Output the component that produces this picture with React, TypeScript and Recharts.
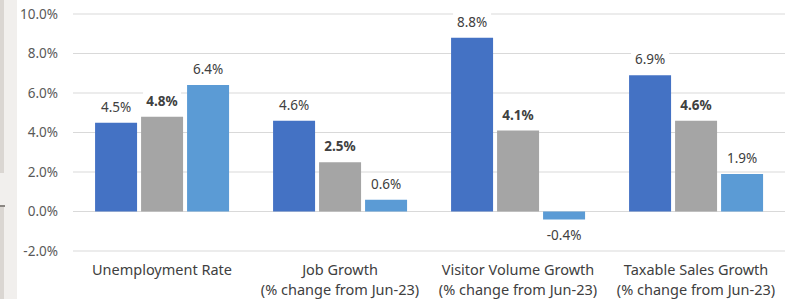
import React from "react";
import { BarChart, Bar, XAxis, YAxis, CartesianGrid, LabelList } from "recharts";

const categories = ["Unemployment Rate", "Job Growth", "Visitor Volume Growth", "Taxable Sales Growth"];
const subtitles = ["", "(% change from Jun-23)", "(% change from Jun-23)", "(% change from Jun-23)"];
const seriesA = [4.5, 4.6, 8.8, 6.9];
const seriesB = [4.8, 2.5, 4.1, 4.6];
const seriesC = [6.4, 0.6, -0.4, 1.9];
const yTicks = [-2, 0, 2, 4, 6, 8, 10];

const data = categories.map((name, i) => ({
  name,
  sub: subtitles[i],
  a: seriesA[i],
  b: seriesB[i],
  c: seriesC[i],
}));

const FONT = "'Noto Sans', 'Open Sans', sans-serif";
const fmt = (v: number) => `${v.toFixed(1)}%`;

// value label with a white box behind it, like Excel data labels
function makeLabel(bold: boolean) {
  return (props: any) => {
    const { x, y, width, height, value } = props;
    const neg = height < 0 || value < 0;
    const cx = x + width / 2;
    const text = fmt(value);
    const cy = neg ? y + 16 : y - 16;
    const w = text.length * 8 + 6;
    return (
      <g>
        <rect x={cx - w / 2} y={cy - 9} width={w} height={18} fill="#ffffff" />
        <text
          x={cx}
          y={cy}
          textAnchor="middle"
          dominantBaseline="central"
          fontFamily={FONT}
          fontSize={13.5}
          fontWeight={bold ? 700 : 400}
          fill="#404040"
        >
          {text}
        </text>
      </g>
    );
  };
}

function CategoryTick(props: any) {
  const { x, y, payload, index } = props;
  return (
    <g>
      <text x={x} y={y + 16} textAnchor="middle" fontFamily={FONT} fontSize={14.5} fill="#404040">
        {payload.value}
      </text>
      {subtitles[index] && (
        <text x={x} y={y + 36} textAnchor="middle" fontFamily={FONT} fontSize={14.5} fill="#404040">
          {subtitles[index]}
        </text>
      )}
    </g>
  );
}

export default function App() {
  return (
    <div style={{ position: "absolute", left: 0, top: 0, width: 789, height: 299, background: "#ffffff", overflow: "hidden" }}>
      <div style={{ position: "absolute", left: 0, top: 0, width: 17, height: 299, background: "#f1efed" }} />
      <div style={{ position: "absolute", left: 0, top: 0, width: 4, height: 173, background: "#dad6d2" }} />
      <div style={{ position: "absolute", left: 0, top: 205, width: 4, height: 94, background: "#dad6d2" }} />
      <div style={{ position: "absolute", left: 0, top: 205, width: 5, height: 2, background: "#8a8682" }} />
      <BarChart
        width={789}
        height={299}
        data={data}
        margin={{ top: 14, right: 4, bottom: 0, left: 0 }}
        barCategoryGap="12.4%"
        barGap={4}
        style={{ position: "absolute", left: 0, top: 0 }}
      >
        <CartesianGrid vertical={false} stroke="#d9d9d9" strokeWidth={1.2} />
        <XAxis
          dataKey="name"
          axisLine={false}
          tickLine={false}
          height={48}
          interval={0}
          tick={<CategoryTick />}
        />
        <YAxis
          domain={[-2, 10]}
          ticks={yTicks}
          width={73}
          axisLine={false}
          tickLine={false}
          tickSize={0}
          tickMargin={15}
          tickFormatter={fmt}
          tick={{ fontFamily: FONT, fontSize: 13.5, fill: "#595959" }}
        />
        <Bar dataKey="a" fill="#4472C4" isAnimationActive={false}>
          <LabelList dataKey="a" content={makeLabel(false)} />
        </Bar>
        <Bar dataKey="b" fill="#A5A5A5" isAnimationActive={false}>
          <LabelList dataKey="b" content={makeLabel(true)} />
        </Bar>
        <Bar dataKey="c" fill="#5B9BD5" isAnimationActive={false}>
          <LabelList dataKey="c" content={makeLabel(false)} />
        </Bar>
      </BarChart>
    </div>
  );
}
